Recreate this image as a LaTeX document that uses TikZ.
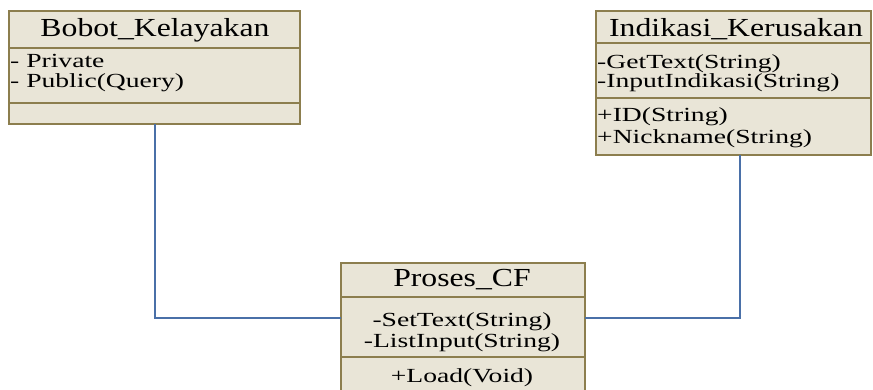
\documentclass[tikz,border=0pt]{standalone}
\usepackage{fontspec}
\setmainfont{Liberation Serif}
\newfontfamily\hdfont[FakeStretch=1.22]{Liberation Serif}
\newfontfamily\bdfont[FakeStretch=1.38]{Liberation Serif}
\definecolor{boxfill}{HTML}{E9E5D7}
\definecolor{boxline}{HTML}{8C7E4E}
\definecolor{conn}{HTML}{4A70A8}
\begin{document}
\begin{tikzpicture}[x=1pt,y=-1pt,
  classbox/.style={draw=boxline,fill=boxfill,line width=2pt,outer sep=0pt,inner sep=0pt,anchor=north west},
  sep/.style={draw=boxline,line width=1.6pt},
  title/.style={font=\hdfont\fontsize{26}{28}\selectfont,anchor=base,inner sep=0pt},
  item/.style={font=\bdfont\fontsize{20}{22}\selectfont,anchor=base west,inner sep=0pt},
  citem/.style={font=\bdfont\fontsize{20}{22}\selectfont,anchor=base,inner sep=0pt},
  link/.style={draw=conn,line width=2pt}]
\useasboundingbox (0,0) rectangle (873,389);
\clip (0,0) rectangle (873,389);
% boxes
\node[classbox,minimum width=291pt,minimum height=113pt] (bobot) at (9,11) {};
\node[classbox,minimum width=275pt,minimum height=144pt] (indikasi) at (596,11) {};
\node[classbox,minimum width=244pt,minimum height=140pt] (proses) at (341,263) {};
% separators
\draw[sep] (9,48) -- (300,48);
\draw[sep] (9,103) -- (300,103);
\draw[sep] (596,43) -- (871,43);
\draw[sep] (596,98) -- (871,98);
\draw[sep] (341,297) -- (585,297);
\draw[sep] (341,357) -- (585,357);
% connector end points
\coordinate (pl) at (341,318);
\coordinate (pr) at (585,318);
\coordinate (ib) at (740,155);
\draw[link] (bobot.south) |- (pl);
\draw[link] (ib) |- (pr);
% texts
\node[title] (t1) at (155,36) {Bobot\_Kelayakan};
\node[item] (a1) at (10,67) {- Private};
\node[item] (a2) at (10,87) {- Public(Query)};
\node[title] (t2) at (736,36) {Indikasi\_Kerusakan};
\node[item] (b1) at (597,68) {-GetText(String)};
\node[item] (b2) at (597,87) {-InputIndikasi(String)};
\node[item] (b3) at (597,121) {+ID(String)};
\node[item] (b4) at (597,143) {+Nickname(String)};
\node[title] (t3) at (462,286) {Proses\_CF};
\node[citem] (c1) at (462,326) {-SetText(String)};
\node[citem] (c2) at (462,347) {-ListInput(String)};
\node[citem] (c3) at (462,382) {+Load(Void)};
\end{tikzpicture}
\end{document}
